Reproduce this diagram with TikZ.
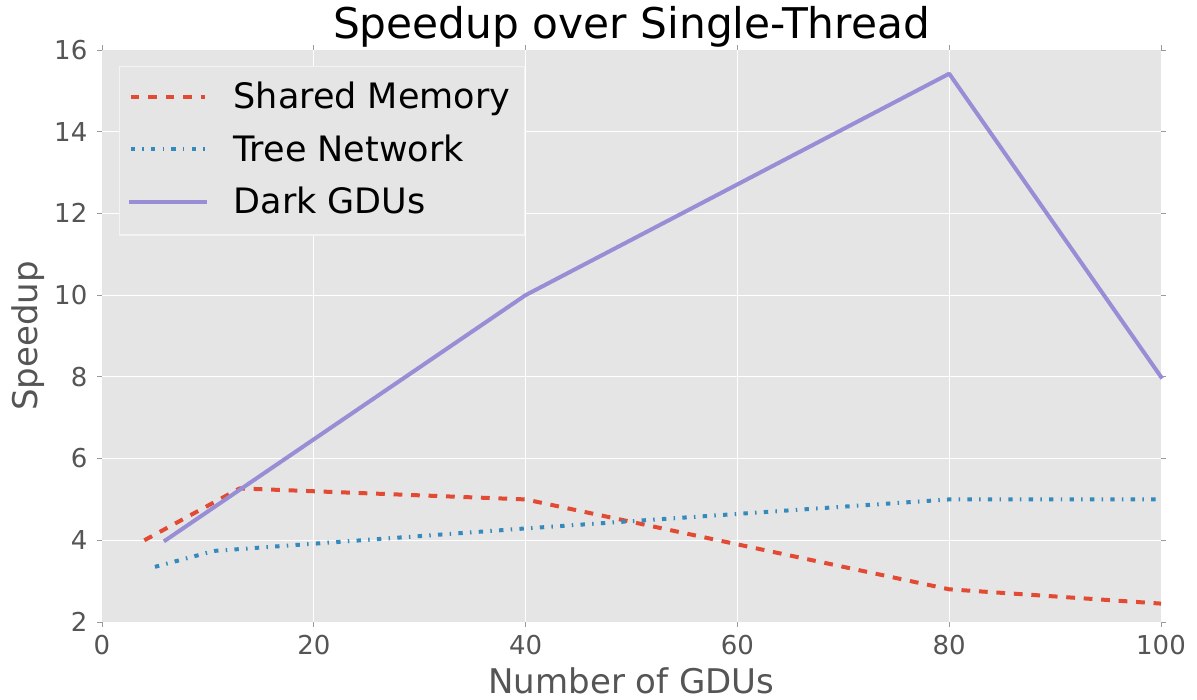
\documentclass[tikz,border=0pt]{standalone}
\usepackage{fontspec}
\setmainfont{DejaVu Sans}
\definecolor{panel}{HTML}{E5E5E5}
\definecolor{axistext}{HTML}{555555}
\definecolor{tickmark}{HTML}{9A9A9A}
\definecolor{legendedge}{HTML}{F3F3F3}
\definecolor{smred}{HTML}{E24A33}
\definecolor{tnblue}{HTML}{348ABD}
\definecolor{gdupurple}{HTML}{988ED5}
\begin{document}
\begin{tikzpicture}[x=1pt,y=1pt,
  gridline/.style={white,line width=1.1pt},
  tickline/.style={tickmark,line width=0.9pt},
  ticklabel/.style={text=axistext,inner sep=0pt,font=\fontsize{26}{30}\selectfont},
  axislabel/.style={text=axistext,inner sep=0pt,font=\fontsize{34}{40}\selectfont},
  legendtext/.style={text=black,inner sep=0pt,anchor=base west,font=\fontsize{35}{42}\selectfont},
  sharedmem/.style={smred,line width=4pt,line cap=butt,line join=round,
    dash pattern=on 8.75pt off 8.75pt},
  treenet/.style={tnblue,line width=4pt,line cap=butt,line join=round,
    dash pattern=on 4.37pt off 7.29pt on 1.46pt off 7.29pt},
  darkgdu/.style={gdupurple,line width=4pt,line cap=rect,line join=round}]
\useasboundingbox (0,0) rectangle (1197,700);
\fill[white] (0,0) rectangle (1197,700);

% title
\node[anchor=base,inner sep=0pt,font=\fontsize{42.3}{50}\selectfont] (title) at (631.5,661) {Speedup over Single-Thread};

% plot panel in data coordinates: x 0..100, y 2..16
\begin{scope}[shift={(102pt,-3.714pt)},x=10.59pt,y=40.857pt]
  \fill[panel] (0,2) rectangle (100,16);
  \foreach \gx in {20,40,60,80} \draw[gridline] (\gx,2) -- (\gx,16);
  \foreach \gy in {4,6,...,14} \draw[gridline] (0,\gy) -- (100,\gy);

  % ticks on all four sides, pointing outwards
  \foreach \gx in {0,20,...,100} {
    \draw[tickline] (\gx,2) -- ++(0,-5pt);
    \draw[tickline] (\gx,16) -- ++(0,5pt);
    \path (\gx,2) ++(0,-33pt) node[ticklabel,anchor=base] (xt\gx) {\gx};
  }
  \foreach \gy in {2,4,...,16} {
    \draw[tickline] (0,\gy) -- ++(-5pt,0);
    \draw[tickline] (100,\gy) -- ++(5pt,0);
    \path (0,\gy) ++(-14.5pt,-9.3pt) node[ticklabel,anchor=base east] (yt\gy) {\gy};
  }

  % data series
  \draw[sharedmem] (4,4) -- (13,5.27) -- (40,5) -- (80,2.8) -- (100,2.45);
  \draw[treenet] (5,3.35) -- (10.6,3.74) -- (40,4.29) -- (80,5) -- (100,5);
  \draw[darkgdu] (6,4) -- (40,10) -- (80,15.42) -- (100,8);
\end{scope}

% axis labels
\node[axislabel,anchor=base] (xlabel) at (631.5,6.5) {Number of GDUs};
\node[axislabel,anchor=base,rotate=90] (ylabel) at (37.5,364) {Speedup};

% legend
\draw[legendedge,line width=1.5pt,fill=panel] (119.4,465) rectangle (524.3,633.3);
\coordinate (l1a) at (130.5,603.3); \coordinate (l1b) at (204.5,603.3);
\coordinate (l2a) at (130.5,551);   \coordinate (l2b) at (204.5,551);
\coordinate (l3a) at (130.5,498.3); \coordinate (l3b) at (204.5,498.3);
\draw[sharedmem] (l1a) -- (l1b);
\draw[treenet] (l2a) -- (l2b);
\draw[darkgdu] (l3a) -- (l3b);
\node[legendtext] (lt1) at (233.4,591.7) {Shared Memory};
\node[legendtext] (lt2) at (233.4,538.3) {Tree Network};
\node[legendtext] (lt3) at (233.4,486.7) {Dark GDUs};
\end{tikzpicture}
\end{document}
